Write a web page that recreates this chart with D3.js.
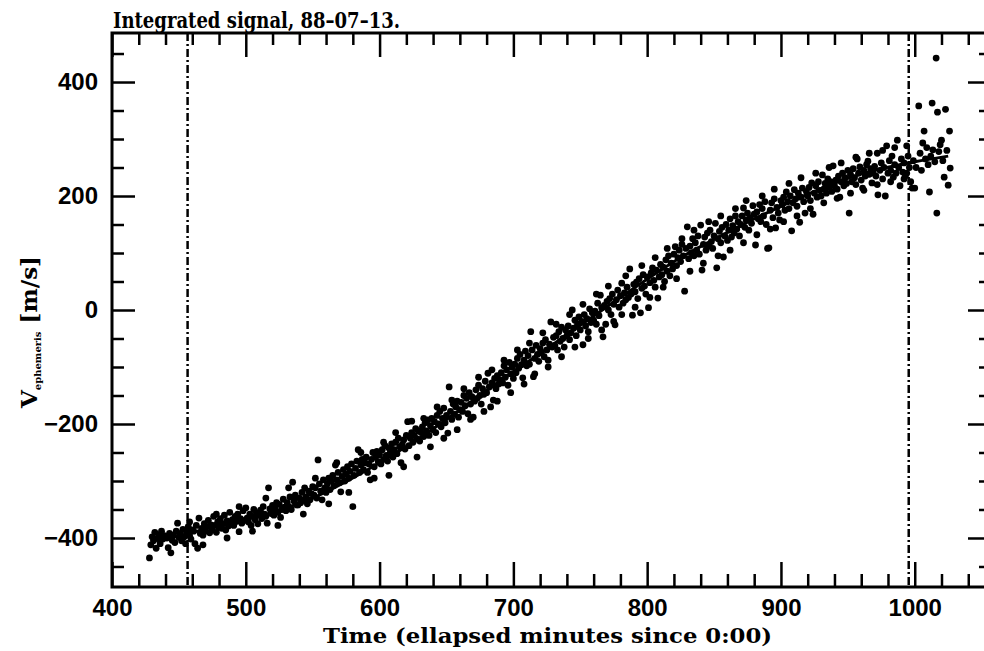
<!DOCTYPE html>
<html>
<head>
<meta charset="utf-8">
<script src="https://cdn.jsdelivr.net/npm/d3@7"></script>
<style>
  html, body { margin: 0; padding: 0; background: #fff; }
  svg { display: block; }
  .tick text { font-family: "Liberation Sans", Arial, sans-serif; font-weight: bold; font-size: 24px; fill: #000; }
  .tick line { stroke: #000; stroke-width: 2.5; }
  .serif { font-family: "DejaVu Serif", serif; font-weight: bold; fill: #000; }
</style>
</head>
<body>
<div id="chart"></div>
<script>
// tick values
const xMajor = [400, 500, 600, 700, 800, 900, 1000];
const yMajor = [-400, -200, 0, 200, 400];

// the two dash-dot markers
const markerTimes = [456.5, 995.5];

// fitted curve
const fitTime = [430, 450, 475, 500, 525, 550, 575, 600, 625, 650, 675, 700, 725, 750, 775, 800, 825, 850, 875, 900, 925, 950, 975, 1000, 1025];
const fitVel  = [-403, -396, -381, -368, -351, -330, -301, -268, -232, -192, -150, -108, -68, -27, 14, 54, 92, 124, 154, 182, 208, 231, 248, 260, 270];

// observed points [time, velocity]
const observations = [
  [428,-435],[429,-412],[430,-398],[431,-405],[432,-390],[433,-418],[434,-401],[435,-395],[436,-410],[437,-388],[438,-402],[439,-396],
  [441,-400],[442,-417],[443,-392],[444,-426],[445,-404],[446,-395],[447,-408],[448,-388],[449,-374],[450,-399],
  [451,-392],[452,-405],[453,-385],[454,-398],[455,-410],[456,-390],[457,-380],[458,-396],[459,-402],[460,-386],
  [461,-388],[462,-410],[463,-378],[464,-418],[465,-365],[466,-392],[467,-383],[468,-395],[469,-375],[470,-388],
  [471,-380],[472,-369],[473,-391],[474,-377],[475,-385],[476,-362],[477,-378],[478,-390],[479,-372],[480,-381],
  [481,-366],[482,-383],[483,-375],[484,-360],[485,-386],[486,-370],[487,-379],[488,-355],[489,-374],[490,-368],
  [491,-378],[492,-362],[493,-371],[494,-358],[495,-389],[496,-366],[497,-374],[498,-352],[499,-369],[500,-347],
  [501,-365],[502,-372],[503,-358],[504,-378],[505,-362],[506,-350],[507,-368],[508,-356],[509,-375],[510,-360],
  [511,-351],[512,-366],[513,-345],[514,-358],[515,-362],[516,-374],[517,-312],[518,-349],[519,-357],[520,-343],
  [521,-360],[522,-348],[523,-338],[524,-355],[525,-341],[526,-364],[527,-350],[528,-332],[529,-346],[530,-352],
  [531,-338],[532,-345],[533,-328],[534,-350],[535,-302],[536,-335],[537,-325],[538,-342],[539,-342],[540,-330],
  [541,-338],[542,-320],[543,-333],[544,-312],[545,-328],[546,-340],[547,-318],[548,-333],[549,-322],[550,-310],
  [551,-325],[552,-312],[553,-330],[554,-263],[555,-305],[556,-318],[557,-333],[558,-298],[559,-312],[560,-320],
  [561,-305],[562,-295],[563,-315],[564,-300],[565,-290],[566,-308],[567,-272],[568,-298],[569,-285],[570,-303],
  [571,-319],[572,-292],[573,-280],[574,-300],[575,-288],[576,-275],[577,-295],[578,-283],[579,-270],[580,-345],
  [581,-290],[582,-278],[583,-265],[584,-245],[585,-285],[586,-272],[587,-262],[588,-280],[589,-268],[590,-258],
  [591,-285],[592,-270],[593,-298],[594,-262],[595,-250],[596,-275],[597,-258],[598,-248],[599,-266],[600,-254],
  [601,-270],[602,-245],[603,-262],[604,-238],[605,-255],[606,-265],[607,-242],[608,-250],[609,-235],[610,-258],
  [611,-245],[612,-232],[613,-252],[614,-225],[615,-240],[616,-268],[617,-236],[618,-228],[619,-244],[620,-220],
  [621,-196],[622,-238],[623,-225],[624,-215],[625,-232],[626,-220],[627,-208],[628,-226],[629,-212],[630,-230],
  [631,-215],[632,-205],[633,-222],[634,-198],[635,-212],[636,-193],[637,-220],[638,-203],[639,-190],[640,-210],
  [641,-196],[642,-215],[643,-185],[644,-200],[645,-178],[646,-205],[647,-190],[648,-172],[649,-198],[650,-185],
  [651,-216],[652,-135],[653,-178],[654,-192],[655,-165],[656,-183],[657,-170],[658,-160],[659,-188],[660,-175],
  [661,-162],[662,-178],[663,-150],[664,-168],[665,-155],[666,-182],[667,-145],[668,-165],[669,-152],[670,-188],
  [671,-160],[672,-140],[673,-155],[674,-132],[675,-150],[676,-165],[677,-138],[678,-148],[679,-125],[680,-145],
  [681,-111],[682,-135],[683,-170],[684,-128],[685,-158],[686,-120],[687,-138],[688,-115],[689,-130],[690,-122],
  [691,-110],[692,-128],[693,-98],[694,-118],[695,-105],[696,-132],[697,-92],[698,-112],[699,-100],[700,-120],
  [701,-95],[702,-110],[703,-85],[704,-102],[705,-78],[706,-96],[707,-119],[708,-88],[709,-72],[710,-98],
  [711,-80],[712,-95],[713,-38],[714,-70],[715,-117],[716,-85],[717,-62],[718,-78],[719,-90],[720,-68],
  [721,-75],[722,-58],[723,-82],[724,-52],[725,-70],[726,-88],[727,-60],[728,-21],[729,-65],[730,-48],
  [731,-62],[732,-45],[733,-70],[734,-38],[735,-55],[736,-30],[737,-50],[738,-65],[739,-35],[740,-45],
  [741,-28],[742,-52],[743,-40],[744,0],[745,-32],[746,-18],[747,-45],[748,-25],[749,-12],[750,-35],
  [751,-20],[752,-61],[753,-8],[754,-28],[755,-15],[756,-38],[757,2],[758,-22],[759,-5],[760,-18],
  [761,-2],[762,-25],[763,12],[764,-10],[765,26],[766,4],[767,-47],[768,8],[769,-25],[770,15],
  [771,0],[772,20],[773,-8],[774,28],[775,10],[776,-26],[777,18],[778,35],[779,5],[780,25],
  [781,47],[782,12],[783,30],[784,18],[785,40],[786,22],[787,72],[788,28],[789,-9],[790,45],
  [791,32],[792,49],[793,20],[794,55],[795,-5],[796,38],[797,62],[798,42],[799,28],[800,58],
  [801,4],[802,48],[803,65],[804,74],[805,52],[806,40],[807,70],[808,21],[809,58],[810,80],
  [811,62],[812,75],[813,50],[814,88],[815,68],[816,95],[817,60],[818,82],[819,72],[820,98],
  [821,111],[822,78],[823,92],[824,105],[825,85],[826,115],[827,95],[828,33],[829,108],[830,146],
  [831,90],[832,112],[833,100],[834,125],[835,95],[836,118],[837,105],[838,130],[839,98],[840,149],
  [841,70],[842,115],[843,128],[844,105],[845,135],[846,112],[847,140],[848,120],[849,108],[850,130],
  [851,152],[852,74],[853,125],[854,138],[855,118],[856,145],[857,93],[858,130],[859,150],[860,122],
  [861,140],[862,160],[863,128],[864,148],[865,135],[866,165],[867,142],[868,155],[869,130],[870,150],
  [871,165],[872,179],[873,145],[874,158],[875,170],[876,140],[877,162],[878,152],[879,183],[880,168],
  [881,114],[882,172],[883,160],[884,185],[885,155],[886,178],[887,165],[888,190],[889,150],[890,108],
  [891,109],[892,175],[893,188],[894,162],[895,195],[896,144],[897,180],[898,170],[899,158],[900,192],
  [901,185],[902,198],[903,175],[904,207],[905,190],[906,178],[907,200],[908,139],[909,188],[910,211],
  [911,195],[912,182],[913,205],[914,154],[915,198],[916,214],[917,190],[918,170],[919,208],[920,200],
  [921,215],[922,192],[923,223],[924,168],[925,205],[926,218],[927,198],[928,225],[929,210],[930,200],
  [931,237],[932,212],[933,222],[934,205],[935,230],[936,215],[937,225],[938,208],[939,253],[940,218],
  [941,228],[942,212],[943,235],[944,198],[945,225],[946,240],[947,218],[948,232],[949,222],[950,245],
  [951,170],[952,238],[953,225],[954,248],[955,232],[956,220],[957,265],[958,240],[959,251],[960,228],
  [961,214],[962,245],[963,235],[964,255],[965,261],[966,238],[967,248],[968,223],[969,240],[970,252],
  [971,235],[972,275],[972.5,202],[974,245],[975,258],[976,230],[977,250],[978,200],[979,288],[980,240],
  [981,262],[982,245],[983,270],[984,233],[985,255],[986,240],[987,298],[988,250],[989,218],[990,265],
  [991,242],[992,258],[993,235],[994,240],[995,270],[996,250],[997,225],[998,214],[999,262],[1000,214],
  [1001,250],[1003,358],[1004,275],[1005,245],[1006,293],[1007,314],[1008,265],[1009,285],[1010,255],
  [1011,207],[1012,270],[1013,363],[1013.5,281],[1015,260],[1016,442],[1016.5,170],[1017,347],[1018,278],
  [1019,290],[1020,298],[1021,262],[1022,233],[1023,352],[1024,280],[1025,219],[1026,314],[1026.5,249],
  // wider scatter on both sides of the band
  [458,-372],[468,-412],[478,-358],[486,-400],[495,-345],[505,-388],[515,-330],[524,-378],
  [532,-312],[543,-358],[552,-295],[562,-340],[568,-268],[577,-320],[586,-250],[596,-295],
  [603,-232],[607,-290],[612,-215],[618,-275],[624,-195],[628,-258],[633,-190],[638,-240],
  [643,-170],[648,-225],[654,-158],[658,-210],[663,-138],[668,-192],[674,-118],[678,-178],
  [684,-105],[688,-160],[693,-88],[698,-145],[703,-70],[708,-130],[712,-58],[716,-112],
  [722,-40],[726,-100],[732,-25],[736,-82],[742,-8],[746,-65],[752,10],[756,-50],
  [762,28],[766,-35],[771,42],[775,-20],[781,-8],[784,60],[791,5],[796,78],
  [802,22],[806,92],[812,40],[815,108],[822,55],[826,125],[832,68],[835,140],
  [842,82],[846,155],[853,95],[855,165],[862,105],[866,178],[872,118],[874,192],
  [882,132],[886,200],[892,142],[895,212],[902,155],[906,222],[912,165],[915,232],
  [922,178],[926,240],[932,188],[936,250],[942,196],[945,258],[952,205],[956,268],
  [962,210],[966,275],[972,220],[976,280],[982,225],[985,285],[992,230],[994,288]
];

const W = 984, H = 651;
const frame = {left: 112, right: 991, top: 33, bottom: 587};

const svg = d3.select("#chart").append("svg")
    .attr("width", W)
    .attr("height", H);

const x = d3.scaleLinear().domain([400, 1057]).range([frame.left, frame.right]);
const y = d3.scaleLinear().domain([-486, 486]).range([frame.bottom, frame.top]);

const xMinor = d3.range(400, 1060, 20).filter(v => v % 100 !== 0);
const yMinor = d3.range(-450, 451, 50).filter(v => v % 200 !== 0);

const fmt = d => (d < 0 ? "\u2212" + Math.abs(d) : String(d));

// bottom axis (ticks pointing inward)
svg.append("g")
    .attr("transform", `translate(0,${frame.bottom})`)
    .call(d3.axisBottom(x).tickValues(xMajor).tickSize(-25).tickPadding(12).tickFormat(fmt));
svg.append("g")
    .attr("transform", `translate(0,${frame.bottom})`)
    .call(d3.axisBottom(x).tickValues(xMinor).tickSize(-13).tickFormat(""));

// top axis
svg.append("g")
    .attr("transform", `translate(0,${frame.top})`)
    .call(d3.axisTop(x).tickValues(xMajor).tickSize(-24).tickFormat(""));
svg.append("g")
    .attr("transform", `translate(0,${frame.top})`)
    .call(d3.axisTop(x).tickValues(xMinor).tickSize(-12).tickFormat(""));

// left axis
svg.append("g")
    .attr("transform", `translate(${frame.left},0)`)
    .call(d3.axisLeft(y).tickValues(yMajor).tickSize(-23).tickPadding(14).tickFormat(fmt));
svg.append("g")
    .attr("transform", `translate(${frame.left},0)`)
    .call(d3.axisLeft(y).tickValues(yMinor).tickSize(-12).tickFormat(""));

// right axis
svg.append("g")
    .attr("transform", `translate(${frame.right},0)`)
    .call(d3.axisRight(y).tickValues(yMajor).tickSize(-23).tickFormat(""));
svg.append("g")
    .attr("transform", `translate(${frame.right},0)`)
    .call(d3.axisRight(y).tickValues(yMinor).tickSize(-12).tickFormat(""));

svg.selectAll(".domain").remove();

// frame
svg.append("rect")
    .attr("x", frame.left)
    .attr("y", frame.top)
    .attr("width", frame.right - frame.left)
    .attr("height", frame.bottom - frame.top)
    .attr("fill", "none")
    .attr("stroke", "#000")
    .attr("stroke-width", 3);

// dash-dot markers
svg.selectAll(".marker")
    .data(markerTimes)
    .enter()
    .append("line")
    .attr("class", "marker")
    .attr("x1", d => x(d)).attr("x2", d => x(d))
    .attr("y1", frame.top).attr("y2", frame.bottom)
    .attr("stroke", "#000")
    .attr("stroke-width", 2.5)
    .attr("stroke-dasharray", "8,3,2,3");

// observed points
svg.append("g")
    .selectAll("circle")
    .data(observations)
    .enter()
    .append("circle")
    .attr("cx", d => x(d[0]))
    .attr("cy", d => y(d[1]))
    .attr("r", 3.4)
    .attr("fill", "#000");

// fitted curve
const line = d3.line()
    .x((d, i) => x(fitTime[i]))
    .y(d => y(d))
    .curve(d3.curveCatmullRom);

svg.append("path")
    .datum(fitVel)
    .attr("d", line)
    .attr("fill", "none")
    .attr("stroke", "#000")
    .attr("stroke-width", 3);

// title
svg.append("text")
    .attr("class", "serif")
    .attr("x", 113)
    .attr("y", 28)
    .attr("font-size", 22)
    .attr("textLength", 287)
    .attr("lengthAdjust", "spacingAndGlyphs")
    .text("Integrated signal, 88\u201307\u201313.");

// x label
svg.append("text")
    .attr("class", "serif")
    .attr("x", 323)
    .attr("y", 643)
    .attr("font-size", 20)
    .attr("textLength", 449)
    .attr("lengthAdjust", "spacingAndGlyphs")
    .text("Time (ellapsed minutes since 0:00)");

// y label
const yl = svg.append("text")
    .attr("class", "serif")
    .attr("transform", "translate(37,408) rotate(-90)")
    .attr("font-size", 23);
yl.append("tspan").text("V");
yl.append("tspan").attr("font-size", 10).attr("dy", 4).text("ephemeris");
yl.append("tspan").attr("dy", -4).text(" [m/s]");
</script>
</body>
</html>
